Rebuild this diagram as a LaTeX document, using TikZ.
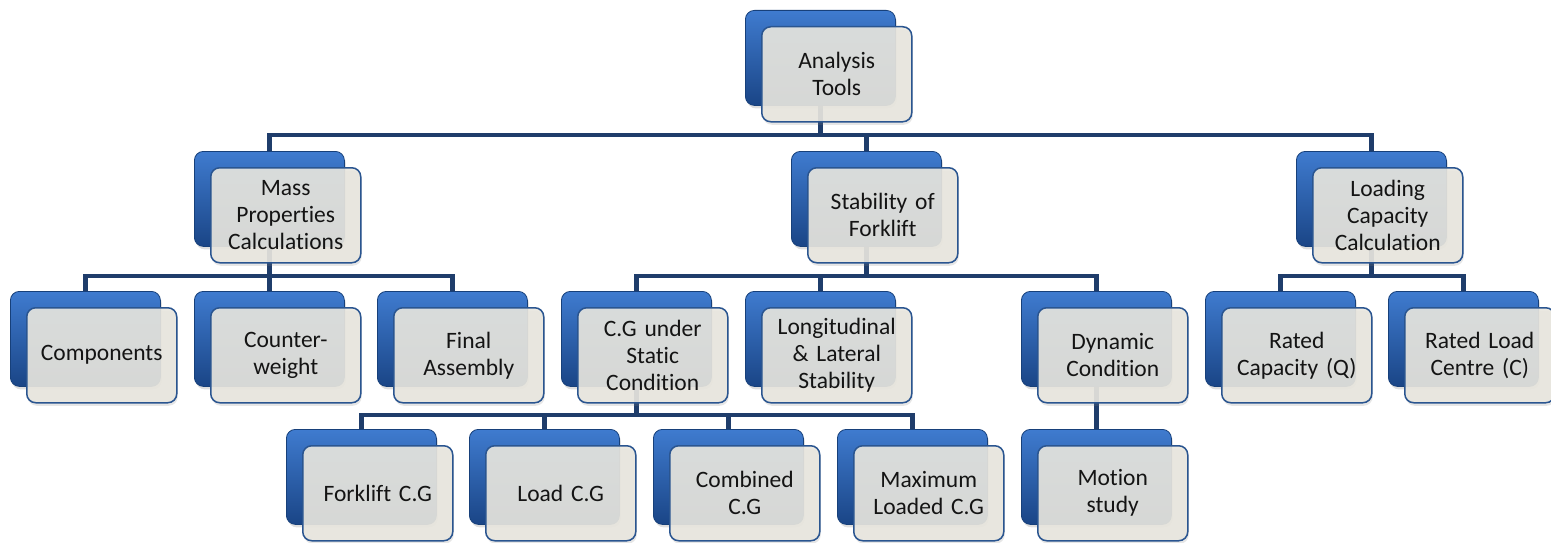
\documentclass[tikz,border=0pt]{standalone}
\usepackage{fontspec}
\setmainfont{Carlito}[Ligatures={NoCommon}]
\usetikzlibrary{shadows}
\definecolor{lineblue}{HTML}{1F3D6B}
\definecolor{bluetop}{HTML}{3F7BCF}
\definecolor{bluemid}{HTML}{2559AA}
\definecolor{bluebot}{HTML}{1A4586}
\definecolor{blueedge}{HTML}{17407A}
\definecolor{frontfill}{HTML}{E9E7DF}
\definecolor{frontedge}{HTML}{2A5590}
\pgfdeclarelayer{background}
\pgfsetlayers{background,main}
\newcommand\pairbox[4]{%
  \node[backbox] (#1b) at (#2,#3) {};
  \node[frontbox] (#1) at (#2+16,#3+16) {#4};}
\begin{document}
\begin{tikzpicture}[x=1pt,y=-1pt,
  backbox/.style={rounded corners=9pt, minimum width=150pt, minimum height=95pt,
    inner sep=0pt, anchor=north west, draw=blueedge, line width=0.8pt,
    top color=bluetop, middle color=bluemid, bottom color=bluebot,
    drop shadow={shadow xshift=1.5pt, shadow yshift=-3pt, opacity=0.25}},
  frontbox/.style={rounded corners=9pt, minimum width=150pt, minimum height=95pt,
    inner sep=0pt, anchor=north west, draw=frontedge, line width=1.5pt,
    fill=frontfill, fill opacity=0.9, text opacity=1, text=black!92,
    text width=146pt, align=center,
    font=\fontsize{23.5}{27}\selectfont,
    drop shadow={shadow xshift=1pt, shadow yshift=-3pt, opacity=0.2}},
  conn/.style={draw=lineblue, line width=4.5pt}]
\useasboundingbox (0,0) rectangle (1551,543);
% row 0
\pairbox{at}{745}{10}{Analysis\\Tools}
% row 1
\pairbox{mp}{194}{151}{Mass\\Properties\\Calculations}
\pairbox{sf}{791}{151}{Stability of\\Forklift}
\pairbox{lc}{1296}{151}{Loading\\Capacity\\Calculation}
% row 2
\pairbox{co}{10}{291}{Components}
\pairbox{cw}{194}{291}{Counter-\\weight}
\pairbox{fa}{377}{291}{Final\\Assembly}
\pairbox{cg}{561}{291}{C.G under\\Static\\Condition}
\pairbox{ll}{745}{291}{Longitudinal\\\& Lateral\\Stability}
\pairbox{dc}{1021}{291}{Dynamic\\Condition}
\pairbox{rc}{1205}{291}{Rated\\Capacity (Q)}
\pairbox{rl}{1388}{291}{Rated Load\\Centre (C)}
% row 3
\pairbox{fk}{286}{429}{Forklift C.G}
\pairbox{ld}{469}{429}{Load C.G}
\pairbox{cb}{653}{429}{Combined\\C.G}
\pairbox{mx}{837}{429}{Maximum\\Loaded C.G}
\pairbox{ms}{1021}{429}{Motion\\study}
% bar levels
\coordinate (barA) at (0,135);
\coordinate (barB) at (0,276);
\coordinate (barC) at (0,415);
\begin{pgfonlayer}{background}
\foreach \c in {mp,sf,lc}
  \draw[conn] (atb.south) |- (\c b.north |- barA) -- (\c b.north);
\foreach \c in {co,cw,fa}
  \draw[conn] (mpb.south) |- (\c b.north |- barB) -- (\c b.north);
\foreach \c in {cg,ll,dc}
  \draw[conn] (sfb.south) |- (\c b.north |- barB) -- (\c b.north);
\foreach \c in {rc,rl}
  \draw[conn] (lcb.south) |- (\c b.north |- barB) -- (\c b.north);
\foreach \c in {fk,ld,cb,mx}
  \draw[conn] (cgb.south) |- (\c b.north |- barC) -- (\c b.north);
\draw[conn] (dcb.south) -- (msb.north);
\end{pgfonlayer}
\end{tikzpicture}
\end{document}
